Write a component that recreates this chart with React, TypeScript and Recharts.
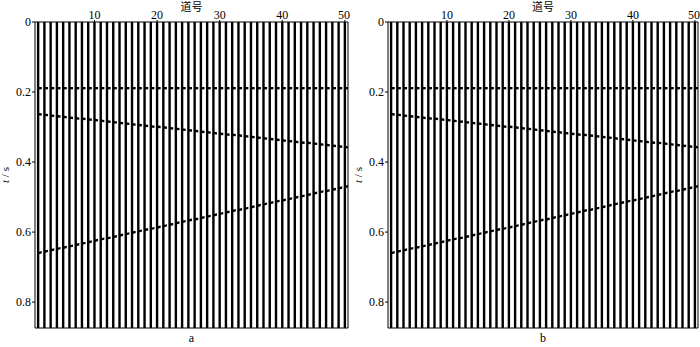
import { ScatterChart, Scatter, XAxis, YAxis } from "recharts";

// trace numbers (道号) and the time axis
const traceNos = Array.from({ length: 50 }, (_, i) => i + 1);
const xTicks = [10, 20, 30, 40, 50];
const tTicks = [0, 0.2, 0.4, 0.6, 0.8];
const T_MAX = 0.874;

// arrival time (s) of each reflection on traces 1..50
const flatEvent = [
  0.189, 0.189, 0.189, 0.189, 0.189, 0.189, 0.189, 0.189, 0.189, 0.189,
  0.189, 0.189, 0.189, 0.189, 0.189, 0.189, 0.189, 0.189, 0.189, 0.189,
  0.189, 0.189, 0.189, 0.189, 0.189, 0.189, 0.189, 0.189, 0.189, 0.189,
  0.189, 0.189, 0.189, 0.189, 0.189, 0.189, 0.189, 0.189, 0.189, 0.189,
  0.189, 0.189, 0.189, 0.189, 0.189, 0.189, 0.189, 0.189, 0.189, 0.189,
];
const dipDown = [
  0.263, 0.265, 0.267, 0.269, 0.271, 0.273, 0.275, 0.276, 0.278, 0.28,
  0.282, 0.284, 0.286, 0.288, 0.29, 0.292, 0.294, 0.296, 0.298, 0.299,
  0.301, 0.303, 0.305, 0.307, 0.309, 0.311, 0.313, 0.315, 0.317, 0.319,
  0.321, 0.322, 0.324, 0.326, 0.328, 0.33, 0.332, 0.334, 0.336, 0.338,
  0.34, 0.342, 0.344, 0.345, 0.347, 0.349, 0.351, 0.353, 0.355, 0.357,
];
const dipUp = [
  0.66, 0.656, 0.652, 0.648, 0.645, 0.641, 0.637, 0.633, 0.629, 0.625,
  0.621, 0.618, 0.614, 0.61, 0.606, 0.602, 0.598, 0.594, 0.591, 0.587,
  0.583, 0.579, 0.575, 0.571, 0.567, 0.564, 0.56, 0.556, 0.552, 0.548,
  0.544, 0.54, 0.537, 0.533, 0.529, 0.525, 0.521, 0.517, 0.513, 0.51,
  0.506, 0.502, 0.498, 0.494, 0.49, 0.486, 0.483, 0.479, 0.475, 0.471,
];

const events = [
  { name: "flat", times: flatEvent, tilt: 0 },
  { name: "down", times: dipDown, tilt: 0.107 },
  { name: "up", times: dipUp, tilt: -0.216 },
];

const FONT = "Liberation Serif, Times New Roman, Noto Sans CJK SC, serif";
const tickStyle = { fontSize: 12, fill: "#000" };

const makeBlob = (tilt: number) => (props: any) => {
  const { cx, cy } = props;
  if (cx == null || cy == null) return <g />;
  const w = 3.6;
  const h = 1.2;
  const pts = [
    `${cx},${cy - h}`,
    `${cx + w},${cy - h + w * tilt}`,
    `${cx + w},${cy + h + w * tilt}`,
    `${cx},${cy + h}`,
  ].join(" ");
  return <polygon points={pts} fill="#000" />;
};

const noDot = () => <g />;

function Panel({ left, plotLeft, letter }: { left: number; plotLeft: number; letter: string }) {
  const W = 350;
  const H = 347;
  const plotRight = 348;
  const cx = (plotLeft + plotRight) / 2;
  return (
    <div style={{ position: "absolute", left, top: 0 }}>
      <ScatterChart
        width={W}
        height={H}
        margin={{ top: 21, left: plotLeft - 1, right: W - plotRight - 1, bottom: 18 }}
      >
        <XAxis
          xAxisId="top"
          type="number"
          dataKey="x"
          orientation="top"
          domain={[0.5, 50.5]}
          ticks={xTicks}
          allowDataOverflow
          height={1}
          tickSize={2}
          tickMargin={1}
          axisLine={{ stroke: "#000" }}
          tickLine={{ stroke: "#000" }}
          tick={tickStyle}
          label={{
            content: () => (
              <text x={cx} y={11} textAnchor="middle" fontSize={11} fill="#000">
                道号
              </text>
            ),
          }}
        />
        <XAxis
          xAxisId="bottom"
          type="number"
          orientation="bottom"
          domain={[0.5, 50.5]}
          height={1}
          tick={false}
          tickLine={false}
          axisLine={{ stroke: "#000" }}
          label={{
            content: () => (
              <text x={cx} y={342} textAnchor="middle" fontSize={12} fill="#000">
                {letter}
              </text>
            ),
          }}
        />
        <YAxis
          yAxisId="left"
          type="number"
          dataKey="y"
          reversed
          domain={[0, T_MAX]}
          ticks={tTicks}
          allowDataOverflow
          width={1}
          tickSize={3}
          tickMargin={1}
          axisLine={{ stroke: "#000" }}
          tickLine={{ stroke: "#000" }}
          tick={tickStyle}
          tickFormatter={(v: number) => (v === 0 ? "0" : v.toFixed(1))}
          label={{
            content: () => (
              <text
                x={plotLeft - 26}
                y={175}
                textAnchor="middle"
                fontSize={11}
                fill="#000"
                transform={`rotate(-90, ${plotLeft - 26}, 175)`}
              >
                <tspan fontStyle="italic">t</tspan> / s
              </text>
            ),
          }}
        />
        <YAxis
          yAxisId="right"
          type="number"
          orientation="right"
          reversed
          domain={[0, T_MAX]}
          width={1}
          tick={false}
          tickLine={false}
          axisLine={{ stroke: "#000" }}
        />
        {traceNos.map((n) => (
          <Scatter
            key={`tr${n}`}
            xAxisId="top"
            yAxisId="left"
            data={[
              { x: n, y: 0 },
              { x: n, y: T_MAX },
            ]}
            line={{ stroke: "#000", strokeWidth: 2.4 }}
            shape={noDot}
            isAnimationActive={false}
          />
        ))}
        {events.map((ev) => (
          <Scatter
            key={ev.name}
            xAxisId="top"
            yAxisId="left"
            data={traceNos.map((n, i) => ({ x: n, y: ev.times[i] }))}
            shape={makeBlob(ev.tilt)}
            isAnimationActive={false}
          />
        ))}
      </ScatterChart>
    </div>
  );
}

export default function App() {
  return (
    <div
      style={{
        position: "absolute",
        left: 0,
        top: 0,
        width: 700,
        height: 347,
        background: "#fff",
        fontFamily: FONT,
      }}
    >
      <Panel left={0} plotLeft={35} letter="a" />
      <Panel left={350} plotLeft={38} letter="b" />
    </div>
  );
}
